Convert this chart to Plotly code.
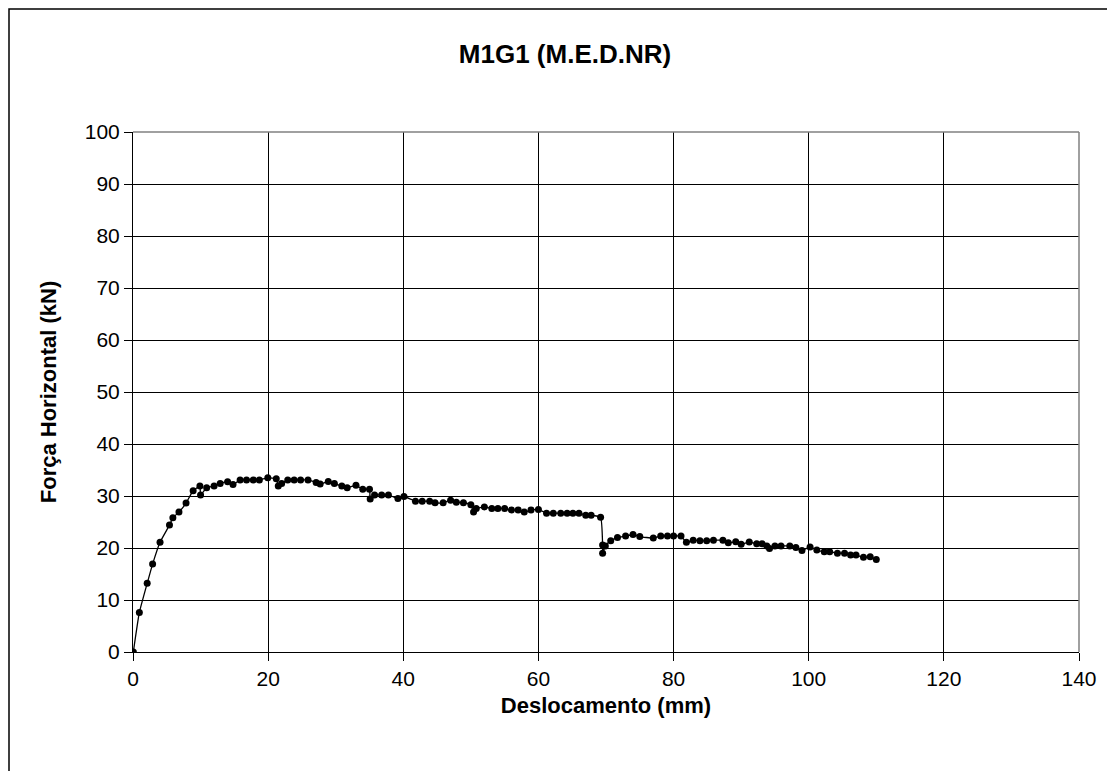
import plotly.graph_objects as go

# deslocamento (mm) e força horizontal (kN)
desloc = [0.05, 0.94, 2.1, 2.9, 4.0, 5.4, 5.9, 6.8, 7.85, 8.9, 9.9, 10.0, 10.9, 12.0, 12.9,
          14.0, 14.8, 15.85, 16.8, 17.8, 18.7, 19.95, 21.2, 21.5, 22.0, 22.9, 23.85, 24.8,
          25.9, 27.1, 27.7, 28.9, 29.8, 30.9, 31.7, 33.0, 34.0, 35.0, 35.1, 35.75, 36.8,
          37.8, 39.2, 40.1, 41.8, 42.8, 43.9, 44.7, 45.9, 47.0, 47.85, 48.9, 50.0, 50.4,
          50.8, 52.0, 53.1, 54.0, 55.0, 56.0, 57.0, 57.9, 58.9, 60.0, 61.2, 62.2, 63.3,
          64.25, 65.1, 66.0, 67.0, 67.8, 69.2, 69.5, 69.5, 69.9, 70.7, 71.7, 72.9, 74.0,
          75.0, 77.0, 78.1, 79.1, 80.0, 81.1, 81.9, 82.9, 83.9, 84.9, 85.9, 87.3, 88.1,
          89.2, 90.0, 91.2, 92.3, 93.1, 93.8, 94.2, 95.0, 95.9, 97.2, 98.1, 99.0, 100.2,
          101.2, 102.3, 103.1, 104.25, 105.3, 106.2, 107.0, 108.1, 109.1, 110.0]
forca = [0.0, 7.6, 13.2, 16.9, 21.1, 24.4, 25.8, 26.9, 28.65, 31.0, 31.9, 30.2, 31.6, 31.9, 32.4,
         32.75, 32.2, 33.1, 33.1, 33.1, 33.1, 33.5, 33.3, 31.9, 32.4, 33.1, 33.1, 33.1,
         33.1, 32.6, 32.3, 32.8, 32.4, 31.9, 31.6, 32.05, 31.3, 31.3, 29.4, 30.2, 30.2,
         30.2, 29.5, 29.9, 29.0, 29.0, 29.0, 28.7, 28.7, 29.2, 28.8, 28.7, 28.3, 26.9,
         27.6, 27.9, 27.6, 27.6, 27.6, 27.3, 27.3, 26.9, 27.3, 27.4, 26.7, 26.7, 26.7,
         26.7, 26.7, 26.7, 26.3, 26.3, 25.9, 20.6, 19.0, 20.4, 21.4, 22.0, 22.3, 22.6,
         22.2, 21.9, 22.3, 22.3, 22.3, 22.3, 21.1, 21.5, 21.4, 21.4, 21.5, 21.5, 21.0,
         21.2, 20.7, 21.15, 20.8, 20.8, 20.4, 19.9, 20.4, 20.4, 20.4, 20.1, 19.5, 20.2,
         19.6, 19.3, 19.3, 19.0, 19.0, 18.65, 18.65, 18.2, 18.3, 17.8]

fig = go.Figure()
fig.add_trace(go.Scatter(x=desloc, y=forca, mode="lines+markers",
                         line=dict(color="black", width=1.3, shape="spline", smoothing=0.4),
                         marker=dict(color="black", size=7), showlegend=False))

font = "Liberation Sans, Arial, sans-serif"
W, H = 1115, 771
fig.update_layout(
    width=W, height=H,
    margin=dict(l=125, r=44, t=124, b=127),
    paper_bgcolor="white", plot_bgcolor="white",
    font=dict(family=font, size=21, color="black"),
    title=dict(text="<b>M1G1 (M.E.D.NR)</b>", x=557 / W, xanchor="center",
               y=1 - 46 / H, yanchor="middle", yref="container",
               font=dict(family=font, size=26, color="black")),
)
fig.update_xaxes(range=[0, 140], dtick=20, showgrid=True, gridcolor="black", gridwidth=1,
                 zeroline=False, showline=True, linecolor="black",
                 ticks="outside", ticklen=8, tickcolor="black",
                 title=dict(text="<b>Deslocamento (mm)</b>", font=dict(size=22), standoff=8))
fig.update_yaxes(range=[0, 100], dtick=10, showgrid=True, gridcolor="black", gridwidth=1,
                 zeroline=False, showline=True, linecolor="black",
                 ticks="outside", ticklen=8, tickcolor="black",
                 title=dict(text="<b>Força Horizontal (kN)</b>", font=dict(size=22), standoff=22))

# moldura cinza superior e direita da área do gráfico + moldura externa
fig.add_shape(type="line", xref="x domain", yref="y domain", x0=0, x1=1, y0=1, y1=1,
              line=dict(color="#808080", width=1.5))
fig.add_shape(type="line", xref="x domain", yref="y domain", x0=1, x1=1, y0=0, y1=1,
              line=dict(color="#808080", width=1.5))
fig.add_shape(type="rect", xref="paper", yref="paper",
              x0=-124 / 946, x1=1.2, y0=1 + 123 / 520, y1=-0.5,
              line=dict(color="black", width=1.5))

fig.write_html("out.html")
